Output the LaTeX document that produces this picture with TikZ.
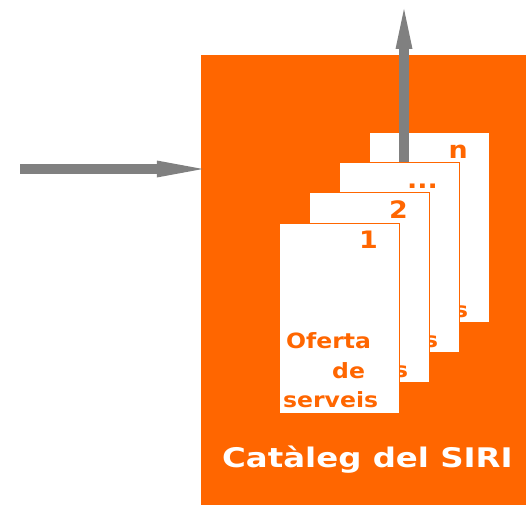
\documentclass[tikz,border=0pt]{standalone}
\usepackage{fontspec}
\setmainfont{DejaVu Sans}
\newfontfamily\cardfont[FakeStretch=1.12]{DejaVu Sans}
\newfontfamily\titlefont[FakeStretch=1.2]{DejaVu Sans}
\usetikzlibrary{arrows.meta}
\definecolor{siriorange}{HTML}{FF6600}
\definecolor{arrowgray}{HTML}{808080}
\begin{document}
\begin{tikzpicture}[x=1pt,y=-1pt,
  card/.style={draw=siriorange, line width=1pt, fill=white, minimum width=120pt, minimum height=190pt, inner sep=0pt},
  cardtxt/.style={text=siriorange, font=\cardfont\fontsize{21}{24}\selectfont\bfseries, inner sep=0pt},
  cardnum/.style={text=siriorange, font=\cardfont\fontsize{24}{28}\selectfont\bfseries, inner sep=0pt, anchor=base east},
  grayarrow/.style={draw=arrowgray, line width=9.5pt},
  catbox/.style={fill=siriorange, minimum width=325pt, minimum height=450pt, inner sep=0pt}]
\useasboundingbox (0,0) rectangle (526,505);
\node[catbox] (catalog) at (363.5,280) {};
\node[text=white, font=\titlefont\fontsize{27}{30}\selectfont\bfseries, inner sep=0pt, anchor=base west] (title) at (222,467) {Catàleg del SIRI};
\coordinate (inS) at (20,169);
\coordinate (outE) at (404,9);
\draw[grayarrow, -{Triangle[length=46pt,width=17pt,line width=0pt]}] (inS) -- ([xshift=2pt]inS -| catalog.west);
\newcommand{\cardcontent}[2]{%
  \node[cardtxt, anchor=base west] (#1-l1) at ([shift={(7,-65)}]#1.south west) {Oferta};
  \node[cardtxt, anchor=base west] (#1-l2) at ([shift={(53,-35)}]#1.south west) {de};
  \node[cardtxt, anchor=base west] (#1-l3) at ([shift={(4,-6)}]#1.south west) {serveis};
  \node[cardnum] (#1-num) at ([shift={(-22,26)}]#1.north east) {#2};
}
% cards from back to front
\node[card] (cardn) at (429.5,227.5) {};
\cardcontent{cardn}{n}
\draw[grayarrow, -{Triangle[length=40pt,width=17pt,line width=0pt]}] (outE |- 0,162) -- (outE);
\node[card] (card3) at (399.5,257.5) {};
\cardcontent{card3}{...}
\node[card] (card2) at (369.5,287.5) {};
\cardcontent{card2}{2}
\node[card] (card1) at (339.5,318) {};
\cardcontent{card1}{1}
\end{tikzpicture}
\end{document}
